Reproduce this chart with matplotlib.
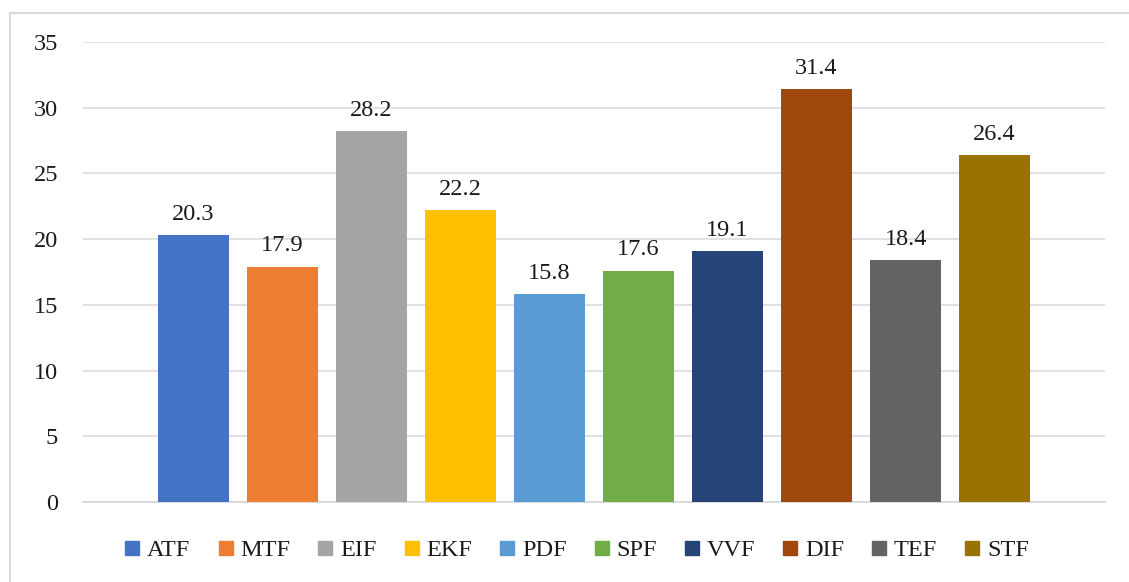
import matplotlib.pyplot as plt
from matplotlib.lines import Line2D
from matplotlib.patches import Rectangle

# data
methods = ['ATF', 'MTF', 'EIF', 'EKF', 'PDF', 'SPF', 'VVF', 'DIF', 'TEF', 'STF']
values = [20.3, 17.9, 28.2, 22.2, 15.8, 17.6, 19.1, 31.4, 18.4, 26.4]
colors = ['#4472C4', '#ED7D31', '#A5A5A5', '#FFC000', '#5B9BD5',
          '#70AD47', '#264478', '#9E480E', '#636363', '#997300']
yticks = [0, 5, 10, 15, 20, 25, 30, 35]

plt.rcParams['font.family'] = ['Liberation Serif', 'DejaVu Serif']
FS = 17.5

fig = plt.figure(figsize=(11.29, 5.82), dpi=100)
ax = fig.add_axes([83 / 1129, 1 - 502 / 582, (1105 - 83) / 1129, (502 - 42) / 582])

x = list(range(len(methods)))
bars = ax.bar(x, values, width=0.8, color=colors, zorder=3)
for xi, v in zip(x, values):
    ax.annotate(f'{v:.1f}', (xi, v), xytext=(0, 11), textcoords='offset points',
                ha='center', va='baseline', fontsize=FS, color='#1a1a1a')

ax.set_xlim(-1.24, len(methods) - 1 + 1.24)
ax.set_ylim(0, 35)
ax.set_yticks(yticks)
ax.set_xticks([])
ax.yaxis.grid(True, color='#D9D9D9', linewidth=1.1, zorder=0)
ax.tick_params(axis='y', length=0, pad=18, labelsize=FS, labelcolor='#1a1a1a')
for s in ['top', 'right', 'left']:
    ax.spines[s].set_visible(False)
ax.spines['bottom'].set_color('#D9D9D9')
ax.spines['bottom'].set_linewidth(1.3)

# figure border (only top/left edges visible in the crop)
fig.patches.append(Rectangle((10 / 1129, -0.1), 1.2, 1 - 13 / 582 + 0.1,
                             transform=fig.transFigure, fill=False,
                             edgecolor='#D9D9D9', linewidth=1.5))

handles = [Line2D([0], [0], marker='s', linestyle='none', markersize=9.5,
                  markerfacecolor=c, markeredgecolor=c) for c in colors]
fig.legend(handles, methods, loc='center', bbox_to_anchor=(577 / 1129, 1 - 550 / 582),
           ncol=len(methods), frameon=False, fontsize=FS, handlelength=0.6,
           handletextpad=0.3, columnspacing=1.15, labelcolor='#1a1a1a')

fig.savefig('out.png', dpi=100)
